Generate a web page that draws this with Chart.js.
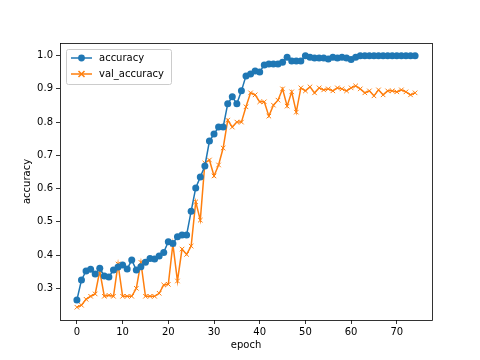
<!DOCTYPE html>
<html><head><meta charset="utf-8">
<script src="https://cdn.jsdelivr.net/npm/chart.js@4/dist/chart.umd.min.js"></script>
<style>html,body{margin:0;padding:0;background:#fff}#wrap{width:480px;height:360px}</style>
</head><body><div id="wrap"><canvas id="c" width="480" height="360"></canvas></div>
<script>
const epochs = Array.from({length: 75}, (_, i) => i);
const accuracy = [0.265,0.325,0.352,0.357,0.343,0.360,0.337,0.334,0.355,0.364,
0.370,0.358,0.385,0.355,0.365,0.378,0.390,0.388,0.397,0.408,
0.440,0.435,0.455,0.460,0.460,0.532,0.602,0.635,0.668,0.743,
0.764,0.785,0.785,0.855,0.876,0.855,0.894,0.939,0.945,0.954,
0.951,0.972,0.975,0.975,0.975,0.980,0.995,0.984,0.984,0.984,
1.000,0.995,0.993,0.993,0.993,0.990,0.995,0.993,0.995,0.993,
0.988,0.995,1.000,1.000,1.000,1.000,1.000,1.000,1.000,1.000,
1.000,1.000,1.000,1.000,1.000];
const valAccuracy = [0.243,0.249,0.267,0.276,0.283,0.352,0.276,0.279,0.276,0.373,
0.276,0.276,0.276,0.300,0.378,0.276,0.276,0.276,0.285,0.310,
0.312,0.433,0.322,0.418,0.402,0.427,0.560,0.505,0.677,0.686,
0.638,0.671,0.722,0.806,0.785,0.800,0.800,0.846,0.888,0.882,
0.861,0.861,0.818,0.851,0.866,0.900,0.848,0.891,0.830,0.903,
0.894,0.906,0.888,0.903,0.897,0.900,0.894,0.903,0.900,0.894,
0.903,0.909,0.900,0.888,0.894,0.879,0.897,0.882,0.894,0.894,
0.891,0.897,0.891,0.882,0.888];
const xTicks = [0,10,20,30,40,50,60,70];
const yTicks = [0.3,0.4,0.5,0.6,0.7,0.8,0.9,1.0];
const seriesNames = ['accuracy','val_accuracy'];
const xLabel = 'epoch';
const yLabel = 'accuracy';

const BLUE = '#1f77b4', ORANGE = '#ff7f0e';
const FONT = {family: '"DejaVu Sans", sans-serif', size: 10};

const framePlugin = {
  id: 'frame',
  afterDatasetsDraw(chart) {
    const {ctx, chartArea: a} = chart;
    ctx.save();
    ctx.strokeStyle = '#000';
    ctx.lineWidth = 0.8;
    ctx.strokeRect(Math.round(a.left)+0.5, Math.round(a.top)+0.5, Math.round(a.right-a.left), Math.round(a.bottom-a.top));
    // legend
    const lx = a.left + 6, ly = a.top + 6, lw = 105, lh = 35;
    ctx.fillStyle = 'rgba(255,255,255,0.8)';
    ctx.strokeStyle = '#cccccc';
    ctx.lineWidth = 1;
    ctx.beginPath();
    ctx.roundRect(lx+0.5, ly+0.5, lw, lh, 2);
    ctx.fill(); ctx.stroke();
    const items = [{c: BLUE, t: seriesNames[0], m: 'o'}, {c: ORANGE, t: seriesNames[1], m: 'x'}];
    items.forEach((it, i) => {
      const y = ly + 9 + i * 16;
      ctx.strokeStyle = it.c; ctx.lineWidth = 1.5;
      ctx.beginPath(); ctx.moveTo(lx + 5, y); ctx.lineTo(lx + 26, y); ctx.stroke();
      const cx = lx + 15.5;
      if (it.m === 'o') {
        ctx.fillStyle = it.c; ctx.beginPath(); ctx.arc(cx, y, 3.4, 0, Math.PI*2); ctx.fill();
      } else {
        ctx.beginPath(); ctx.moveTo(cx-3, y-3); ctx.lineTo(cx+3, y+3); ctx.moveTo(cx-3, y+3); ctx.lineTo(cx+3, y-3); ctx.stroke();
      }
      ctx.fillStyle = '#000';
      ctx.font = '10px "DejaVu Sans", sans-serif';
      ctx.textBaseline = 'middle';
      ctx.fillText(it.t, lx + 33, y + 0.5);
    });
    ctx.restore();
  }
};

new Chart(document.getElementById('c'), {
  type: 'line',
  data: {
    datasets: [
      {label: seriesNames[0], data: epochs.map((e,i)=>({x:e,y:accuracy[i]})), borderColor: BLUE, backgroundColor: BLUE,
       borderWidth: 1.5, pointStyle: 'circle', pointRadius: 3.5, pointBorderWidth: 0, pointHoverRadius: 3.5, tension: 0},
      {label: seriesNames[1], data: epochs.map((e,i)=>({x:e,y:valAccuracy[i]})), borderColor: ORANGE, backgroundColor: ORANGE,
       borderWidth: 1.5, pointStyle: 'crossRot', pointRadius: 3.2, pointBorderWidth: 1, pointHoverRadius: 3.2, tension: 0}
    ]
  },
  options: {
    responsive: false, animation: false, devicePixelRatio: 1,
    layout: {padding: {top: 43, right: 48, left: 0, bottom: 0}},
    plugins: {legend: {display: false}, tooltip: {enabled: false}},
    scales: {
      x: {
        type: 'linear', min: -3.7, max: 77.7,
        afterBuildTicks(s) { s.ticks = xTicks.map(v => ({value: v})); },
        afterFit(s) { s.height = 40; },
        grid: {display: true, drawOnChartArea: false, tickLength: 4, tickColor: '#000', tickWidth: 0.8},
        border: {display: false},
        ticks: {font: FONT, color: '#000', padding: 2, maxRotation: 0, callback: v => String(v)},
        title: {display: true, text: xLabel, font: FONT, color: '#000', padding: {top: 0, bottom: 9}}
      },
      y: {
        type: 'linear', min: 0.2046, max: 1.038,
        afterBuildTicks(s) { s.ticks = yTicks.map(v => ({value: v})); },
        afterFit(s) { s.width = 60; },
        grid: {display: true, drawOnChartArea: false, tickLength: 4, tickColor: '#000', tickWidth: 0.8},
        border: {display: false},
        ticks: {font: FONT, color: '#000', padding: 3, callback: v => v.toFixed(1)},
        title: {display: true, text: yLabel, font: FONT, color: '#000', padding: {top: 21, bottom: 0}}
      }
    }
  },
  plugins: [framePlugin]
});
</script></body></html>
